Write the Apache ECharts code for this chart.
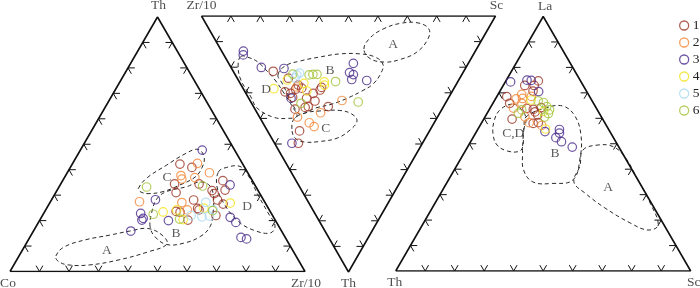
<!DOCTYPE html>
<html><head><meta charset="utf-8">
<script src="https://cdn.jsdelivr.net/npm/echarts@6/dist/echarts.min.js"></script>
<style>html,body{margin:0;padding:0;background:#fff}#c{width:700px;height:288px}</style>
</head><body><div id="c"></div>
<script>
// ---------- DATA (ternary %, each point = [apex component, right component]; third = 100 - both) ----------
const legendNames = ['1','2','3','4','5','6'];
const tickValues = [10,20,30,40,50,60,70,80,90];

// Diagram 1: Th (apex) – Co (lower left) – Zr/10 (lower right); points [Th, Zr/10]
const d1Vertices = ['Th','Co','Zr/10'];
const d1_g1 = [[42.2,36.5],[40.9,41.2],[34.4,38.6],[34.4,46.9],[35.7,54.3],[32.0,56.9],[31.8,52.6],[30.6,53.9],[31.0,40.8],[28.1,48.2],[28.1,56.3],[26.5,59.0],[24.8,51.2],[24.2,52.0],[23.6,44.5],[23.3,46.0],[20.2,50.2],[22.0,58.8]];
const d1_g2 = [[42.5,42.3],[38.8,48.2],[37.7,39.1],[36.3,40.1],[36.9,44.2],[27.4,30.2],[27.1,44.7],[24.2,48.0]];
const d1_g3 = [[47.7,41.3],[34.0,57.6],[28.2,35.2],[22.8,32.9],[20.9,34.7],[20.2,34.6],[20.0,43.7],[21.3,64.0],[19.3,66.9],[15.9,33.0],[13.4,71.6],[12.8,73.8]];
const d1_g4 = [[26.9,61.2],[23.4,40.2],[24.2,44.4],[20.4,48.5],[24.9,53.3]];
const d1_g5 = [[27.2,52.8],[22.0,50.4],[21.5,54.3],[21.8,56.7],[24.2,56.8]];
const d1_g6 = [[33.2,29.7],[33.6,48.5],[22.5,37.3],[20.6,47.2],[23.9,56.7]];
const d1_fieldA = [[6.1,12.5],[9.6,13.5],[12.4,19.2],[14.3,26.7],[15.9,32.7],[16.9,38.3],[14.3,44.4],[10.8,47.8],[7.7,42.9],[4.5,34.4],[2.6,25.8],[2.6,18.4],[4.1,14.2]];
const d1_fieldB = [[17.6,38.7],[23.0,36.5],[28.5,35.5],[31.4,37.4],[33.3,43.2],[35.2,46.8],[33.6,51.0],[29.3,54.3],[23.0,57.3],[17.6,59.0],[13.7,57.6],[11.1,53.2],[10.6,47.8],[13.6,42.4]];
const d1_fieldC = [[32.6,27.2],[36.7,28.0],[41.8,32.2],[46.2,36.2],[48.0,39.7],[45.0,43.3],[40.7,44.7],[37.1,44.2],[34.0,40.6],[31.4,36.2],[30.6,31.5],[31.4,28.4]];
const d1_fieldD = [[39.1,51.1],[40.9,53.0],[41.3,57.3],[37.9,61.7],[30.1,69.0],[23.0,76.0],[17.9,80.9],[15.1,80.6],[16.3,74.3],[19.8,67.4],[26.1,59.8],[33.2,53.6]];
const d1FieldNames = ['A','B','C','D'];
const d1FieldLabelAt = [[8.1,28.8],[15.1,48.7],[36.9,34.8],[25.7,67.5]];

// Diagram 2 (inverted): Th (bottom apex) – Zr/10 (upper left) – Sc (upper right); points [Th, Sc]
const d2Vertices = ['Th','Zr/10','Sc'];
const d2_g1 = [[21.6,13.6],[24.3,17.4],[29.6,13.6],[30.2,15.2],[31.8,15.1],[28.6,17.7],[27.0,19.4],[28.2,20.0],[32.1,19.7],[30.2,22.9],[33.2,22.0],[28.9,25.9],[27.9,26.9],[35.7,17.4],[35.4,18.6],[36.4,13.6],[35.4,25.4],[44.9,10.9],[49.7,8.1]];
const d2_g2 = [[27.7,18.6],[33.0,31.3],[37.8,21.6],[39.5,12.9],[41.7,15.8],[43.2,16.7]];
const d2_g3 = [[13.7,7.4],[15.2,6.6],[20.1,10.3],[20.5,17.8],[18.5,42.4],[22.1,39.3],[22.9,40.2],[24.8,38.7],[25.2,43.6],[32.1,14.4],[49.7,5.9]];
const d2_g4 = [[25.7,28.9],[27.0,28.3],[28.4,10.4],[25.0,16.7],[26.3,21.7],[29.3,21.2]];
const d2_g5 = [[23.0,20.9],[22.3,22.2],[24.2,19.7]];
const d2_g6 = [[22.7,19.7],[23.0,25.1],[22.8,26.5],[22.8,27.9],[25.6,32.8],[34.1,16.8],[33.6,36.5]];
const d2_fieldA = [[12.9,48.8],[8.6,53.0],[5.1,59.2],[2.9,66.1],[2.7,72.3],[5.1,74.8],[9.0,72.5],[14.1,66.2],[17.0,59.0],[18.0,53.4],[16.6,49.0]];
const d2_fieldB = [[23.0,14.5],[19.5,18.7],[17.6,24.7],[16.0,32.3],[14.8,39.7],[14.8,46.5],[16.0,51.0],[18.8,52.3],[22.3,49.9],[26.6,45.0],[29.3,39.9],[32.0,33.8],[34.4,27.2],[35.9,21.0],[38.3,14.4],[35.5,13.7],[30.9,14.0],[26.2,14.3]];
const d2_fieldD = [[15.8,5.5],[16.4,8.3],[18.0,10.2],[21.1,11.4],[25.0,12.5],[30.1,13.0],[35.2,13.2],[39.1,12.9],[40.0,9.4],[39.5,4.6],[35.9,0.9],[31.6,1.0],[25.0,0.9],[19.5,2.7]];
const d2_fieldC = [[44.1,8.7],[40.2,11.4],[37.9,16.2],[37.1,21.7],[36.9,28.6],[38.3,32.0],[41.0,32.4],[44.5,28.3],[47.7,22.3],[49.0,15.8],[49.2,10.3],[47.7,8.0]];
const d2FieldNames = ['A','B','D','C'];
const d2FieldLabelAt = [[11.3,59.5],[21.1,33.2],[28.7,7.6],[43.8,20.4]];

// Diagram 3: La (apex) – Th (lower left) – Sc (lower right); points [La, Sc]
const d3Vertices = ['La','Th','Sc'];
const d3_g1 = [[74.7,11.0],[72.9,7.3],[72.9,10.5],[70.7,11.2],[68.5,3.4],[65.9,5.7],[63.9,12.5],[63.5,14.9],[64.2,17.2],[62.5,16.0],[61.3,17.5],[59.7,9.6],[58.0,17.6],[58.3,19.2]];
const d3_g2 = [[69.4,8.0],[67.6,7.0],[67.8,9.1],[65.9,9.8],[68.6,11.7],[60.6,13.5],[58.3,16.1],[57.2,20.9],[64.0,7.9]];
const d3_g3 = [[74.3,1.8],[75.0,7.0],[74.9,8.5],[70.5,13.2],[55.6,27.7],[54.2,28.4],[54.8,23.2],[52.4,28.1],[50.8,30.8],[48.7,35.5]];
const d3_g4 = [[67.2,12.3],[55.8,22.9],[62.7,18.8]];
const d3_g5 = [];
const d3_g6 = [[66.8,14.9],[66.2,17.0],[64.6,18.9],[63.3,20.5],[61.9,20.8],[62.0,10.6],[63.3,11.1],[60.5,20.2]];
const d3_fieldA = [[47.5,39.7],[49.5,43.8],[48.9,49.2],[44.8,55.3],[35.8,64.2],[26.7,72.9],[18.1,79.9],[16.1,77.5],[18.9,70.0],[24.8,58.5],[30.6,48.9],[35.0,42.9],[41.3,41.8]];
const d3_fieldB = [[60.5,13.9],[64.0,18.6],[64.8,24.3],[60.9,30.3],[53.4,36.1],[44.4,40.3],[35.8,42.2],[34.4,35.8],[35.0,29.0],[39.7,23.5],[46.4,19.8],[51.5,17.4],[56.2,15.4]];
const d3_fieldCD = [[65.6,6.6],[63.3,3.7],[58.9,3.9],[53.8,6.1],[49.5,9.6],[47.2,14.1],[47.0,18.3],[49.1,18.6],[54.6,15.9],[60.1,14.1],[64.4,9.6]];
const d3FieldNames = ['C,D','B','A'];
const d3FieldLabelAt = [[54.1,12.8],[46.0,31.0],[32.7,55.7]];

// ---------- STYLE / LAYOUT ----------
const groupColors = ['#9c3626','#f2873a','#4a2c8c','#f3e41c','#a9d8f2','#a2c33a'];
const serif = '"Liberation Serif","Times New Roman",serif';
const vertexKeys = [[100,0],[0,0],[0,100]]; // apex, left/first, right corner in [top,right] form

const diagrams = [
  { grid:{left:10, top:17, width:295, height:254.5},
    toXY: p => [p[1] + p[0]/2, p[0]],
    groups:[d1_g1,d1_g2,d1_g3,d1_g4,d1_g5,d1_g6],
    fields:[d1_fieldA,d1_fieldB,d1_fieldC,d1_fieldD], fieldNames:d1FieldNames, fieldAt:d1FieldLabelAt,
    vNames:d1Vertices, vPos:['top','bottom','bottom'], vDist:[4,4,4], vOff:[[1,0],[-2,0],[1,0]] },
  { grid:{left:201.5, top:16, width:294, height:256},
    toXY: p => [p[1] + p[0]/2, 100 - p[0]],
    groups:[d2_g1,d2_g2,d2_g3,d2_g4,d2_g5,d2_g6],
    fields:[d2_fieldA,d2_fieldB,d2_fieldD,d2_fieldC], fieldNames:d2FieldNames, fieldAt:d2FieldLabelAt,
    vNames:d2Vertices, vPos:['bottom','top','top'], vDist:[4,3,3], vOff:[[0,0],[0,0],[1,0]] },
  { grid:{left:395.7, top:16.5, width:295, height:254.5},
    toXY: p => [p[1] + p[0]/2, p[0]],
    groups:[d3_g1,d3_g2,d3_g3,d3_g4,d3_g5,d3_g6],
    fields:[d3_fieldCD,d3_fieldB,d3_fieldA], fieldNames:d3FieldNames, fieldAt:d3FieldLabelAt,
    vNames:d3Vertices, vPos:['top','bottom','bottom'], vDist:[3,4,4], vOff:[[2,0],[-1,0],[3,0]] }
];

function tickPolylines(toXY){
  const L = 2.3, out = [];
  tickValues.forEach(t => {
    out.push([[L,t],[0,t],[L,t-L]]);               // edge where apex component = 0
    out.push([[t,L],[t,0],[t-L,L]]);               // edge where right component = 0
    out.push([[t-L,100-t],[t,100-t],[t,100-t-L]]); // edge where third component = 0
  });
  return out.map(pl => ({coords: pl.map(toXY)}));
}

const option = {
  animation:false, backgroundColor:'#fff',
  grid:[], xAxis:[], yAxis:[], series:[],
  legend:{
    orient:'vertical', left:679, top:18.5, padding:0, itemGap:3, itemWidth:9, itemHeight:9,
    textStyle:{fontFamily:serif, fontSize:13.5, color:'#222', padding:[0,0,0,-1]},
    data: legendNames.map((n,k)=>({name:n, icon:'circle',
      itemStyle:{color:'rgba(255,255,255,0)', borderColor:groupColors[k], borderWidth:1.3}}))
  }
};

diagrams.forEach((d,i) => {
  option.grid.push(Object.assign({containLabel:false, outerBoundsMode:'none'}, d.grid));
  option.xAxis.push({type:'value', gridIndex:i, min:0, max:100, show:false});
  option.yAxis.push({type:'value', gridIndex:i, min:0, max:100, show:false});

  // dashed discrimination fields
  d.fields.forEach(f => {
    const xy = f.map(d.toXY);
    option.series.push({
      type:'custom', xAxisIndex:i, yAxisIndex:i, silent:true, z:2, data:[xy[0]],
      renderItem:(params, api) => ({
        type:'polygon',
        shape:{points: xy.map(p => api.coord(p)), smooth:0.4},
        style:{fill:'none', stroke:'#2a2a2a', lineWidth:1, lineDash:[4,3]}
      })
    });
  });

  // triangle frame
  option.series.push({
    type:'line', xAxisIndex:i, yAxisIndex:i, silent:true, z:3, symbol:'none',
    data:[vertexKeys[1], vertexKeys[2], vertexKeys[0], vertexKeys[1]].map(d.toXY),
    lineStyle:{color:'#111', width:1.6}
  });

  // chevron ticks
  option.series.push({
    type:'lines', coordinateSystem:'cartesian2d', xAxisIndex:i, yAxisIndex:i, polyline:true, silent:true, z:3,
    data: tickPolylines(d.toXY), lineStyle:{color:'#111', width:1, opacity:1}
  });

  // sample points
  d.groups.forEach((g,k) => {
    option.series.push({
      type:'scatter', name:legendNames[k], xAxisIndex:i, yAxisIndex:i, z:4,
      symbol:'circle', symbolSize:8.5,
      itemStyle:{color:'rgba(255,255,255,0)', borderColor:groupColors[k], borderWidth:1.2},
      emphasis:{disabled:true},
      data: g.map(d.toXY)
    });
  });

  // field labels
  option.series.push({
    type:'scatter', xAxisIndex:i, yAxisIndex:i, silent:true, z:5, symbolSize:1,
    itemStyle:{color:'rgba(0,0,0,0)'},
    label:{show:true, position:'inside', formatter:'{b}', fontFamily:serif, fontSize:13.5, color:'#333'},
    data: d.fieldAt.map((p,k) => ({name:d.fieldNames[k], value:d.toXY(p)}))
  });

  // vertex labels
  option.series.push({
    type:'scatter', xAxisIndex:i, yAxisIndex:i, silent:true, z:5, symbolSize:1,
    itemStyle:{color:'rgba(0,0,0,0)'},
    data: vertexKeys.map((v,k) => ({
      name:d.vNames[k], value:d.toXY(v),
      label:{show:true, position:d.vPos[k], distance:d.vDist[k], offset:d.vOff[k], formatter:'{b}',
        fontFamily:serif, fontSize:13.5, color:'#222'}
    }))
  });
});

const chart = echarts.init(document.getElementById('c'), null, {renderer:'canvas'});
chart.setOption(option);
</script>
</body></html>
